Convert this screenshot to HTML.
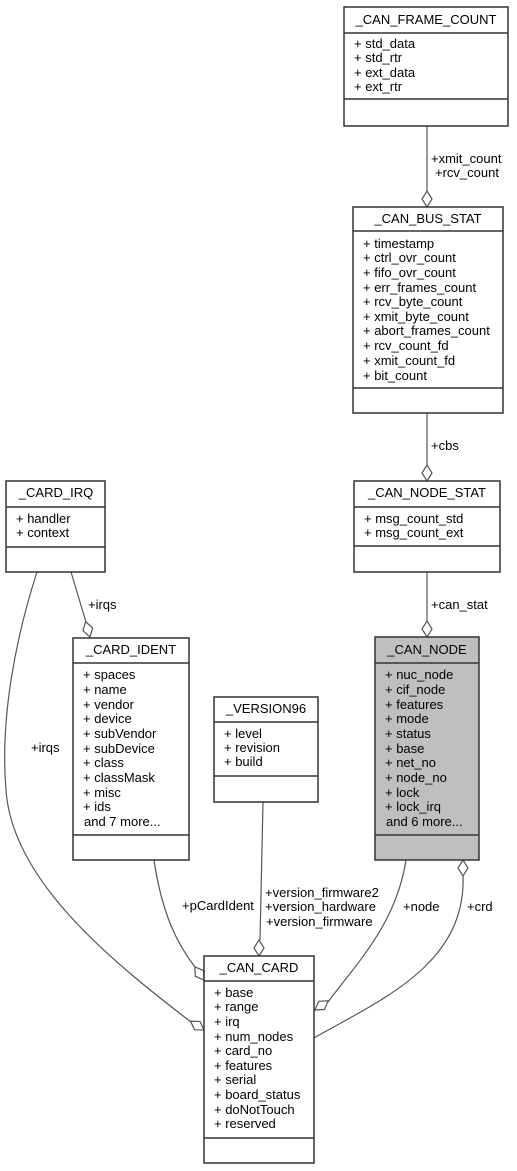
<!DOCTYPE html>
<html><head><meta charset="utf-8"><style>
html,body{margin:0;padding:0;background:#fff}
svg{display:block}
text{font-family:"Liberation Sans",Arial,sans-serif;font-size:13px;fill:#000}
.b{fill:#fff;stroke:#333;stroke-width:1.5}
.g{fill:#bfbfbf;stroke:#333;stroke-width:1.5}
.l{stroke:#333;stroke-width:1.5}
.e{fill:none;stroke:#555;stroke-width:1.2}
.d{fill:#fff;stroke:#555;stroke-width:1.2}
</style></head><body>
<svg width="517" height="1171" viewBox="0 0 517 1171" xmlns="http://www.w3.org/2000/svg">
<!-- edges -->
<path class="e" d="M427,126 L427,191"/>
<g transform="translate(427,207) rotate(90)"><polygon class="d" points="0,0 -8,-5 -16,0 -8,5"/></g>
<text x="431" y="163">+xmit_count</text><text x="435" y="177">+rcv_count</text>

<path class="e" d="M427,413 L427,465"/>
<g transform="translate(427,481) rotate(90)"><polygon class="d" points="0,0 -8,-5 -16,0 -8,5"/></g>
<text x="431" y="450">+cbs</text>

<path class="e" d="M427,572 L427,621"/>
<g transform="translate(427,637) rotate(90)"><polygon class="d" points="0,0 -8,-5 -16,0 -8,5"/></g>
<text x="431" y="609">+can_stat</text>

<path class="e" d="M71,572 L86,622"/>
<g transform="translate(90,637) rotate(74)"><polygon class="d" points="0,0 -8,-5 -16,0 -8,5"/></g>
<text x="88" y="609">+irqs</text>

<path class="e" d="M37,572 C15,640 0,720 6,790 C12,880 110,960 191,1022"/>
<g transform="translate(204,1030) rotate(33)"><polygon class="d" points="0,0 -8,-5 -16,0 -8,5"/></g>
<text x="31" y="752">+irqs</text>

<path class="e" d="M154,860 C162,915 178,945 195,967"/>
<g transform="translate(204,980) rotate(55)"><polygon class="d" points="0,0 -8,-5 -16,0 -8,5"/></g>
<text x="182" y="910">+pCardIdent</text>

<path class="e" d="M263,802 L260,940"/>
<g transform="translate(259,956) rotate(90)"><polygon class="d" points="0,0 -8,-5 -16,0 -8,5"/></g>
<text x="265" y="897">+version_firmware2</text>
<text x="265" y="911">+version_hardware</text>
<text x="266" y="926">+version_firmware</text>

<path class="e" d="M406,860 C396,925 355,965 328,1002"/>
<g transform="translate(315,1010) rotate(145)"><polygon class="d" points="0,0 -8,-5 -16,0 -8,5"/></g>
<text x="403" y="911">+node</text>

<path class="e" d="M463,876 C466,965 380,1000 314,1038"/>
<g transform="translate(463,860) rotate(-90)"><polygon class="d" points="0,0 -8,-5 -16,0 -8,5"/></g>
<text x="467" y="911">+crd</text>

<!-- _CAN_FRAME_COUNT -->
<rect class="b" x="344" y="7" width="164" height="119"/>
<line class="l" x1="344" y1="33" x2="508" y2="33"/><line class="l" x1="344" y1="99" x2="508" y2="99"/>
<text x="426" y="24" text-anchor="middle">_CAN_FRAME_COUNT</text>
<text x="354" y="48">+ std_data</text><text x="354" y="62">+ std_rtr</text><text x="354" y="77">+ ext_data</text><text x="354" y="91">+ ext_rtr</text>

<!-- _CAN_BUS_STAT -->
<rect class="b" x="353" y="207" width="150" height="206"/>
<line class="l" x1="353" y1="231" x2="503" y2="231"/><line class="l" x1="353" y1="388" x2="503" y2="388"/>
<text x="428" y="223" text-anchor="middle">_CAN_BUS_STAT</text>
<text x="363" y="248">+ timestamp</text><text x="363" y="262">+ ctrl_ovr_count</text><text x="363" y="277">+ fifo_ovr_count</text><text x="363" y="292">+ err_frames_count</text><text x="363" y="306">+ rcv_byte_count</text><text x="363" y="321">+ xmit_byte_count</text><text x="363" y="335">+ abort_frames_count</text><text x="363" y="350">+ rcv_count_fd</text><text x="363" y="365">+ xmit_count_fd</text><text x="363" y="380">+ bit_count</text>

<!-- _CAN_NODE_STAT -->
<rect class="b" x="354" y="481" width="146" height="91"/>
<line class="l" x1="354" y1="507" x2="500" y2="507"/><line class="l" x1="354" y1="546" x2="500" y2="546"/>
<text x="427" y="497" text-anchor="middle">_CAN_NODE_STAT</text>
<text x="364" y="523">+ msg_count_std</text><text x="364" y="537">+ msg_count_ext</text>

<!-- _CARD_IRQ -->
<rect class="b" x="6" y="481" width="99" height="91"/>
<line class="l" x1="6" y1="507" x2="105" y2="507"/><line class="l" x1="6" y1="547" x2="105" y2="547"/>
<text x="56" y="497" text-anchor="middle">_CARD_IRQ</text>
<text x="16" y="523">+ handler</text><text x="16" y="537">+ context</text>

<!-- _CAN_NODE -->
<rect class="g" x="375" y="637" width="104" height="223"/>
<line class="l" x1="375" y1="663" x2="479" y2="663"/><line class="l" x1="375" y1="835" x2="479" y2="835"/>
<text x="427" y="654" text-anchor="middle">_CAN_NODE</text>
<text x="385" y="679">+ nuc_node</text><text x="385" y="694">+ cif_node</text><text x="385" y="709">+ features</text><text x="385" y="723">+ mode</text><text x="385" y="738">+ status</text><text x="385" y="753">+ base</text><text x="385" y="767">+ net_no</text><text x="385" y="782">+ node_no</text><text x="385" y="797">+ lock</text><text x="385" y="811">+ lock_irq</text><text x="386" y="826">and 6 more...</text>

<!-- _CARD_IDENT -->
<rect class="b" x="73" y="638" width="116" height="222"/>
<line class="l" x1="73" y1="663" x2="189" y2="663"/><line class="l" x1="73" y1="835" x2="189" y2="835"/>
<text x="131" y="654" text-anchor="middle">_CARD_IDENT</text>
<text x="83" y="679">+ spaces</text><text x="83" y="694">+ name</text><text x="83" y="709">+ vendor</text><text x="83" y="723">+ device</text><text x="83" y="738">+ subVendor</text><text x="83" y="753">+ subDevice</text><text x="83" y="767">+ class</text><text x="83" y="782">+ classMask</text><text x="83" y="797">+ misc</text><text x="83" y="811">+ ids</text><text x="84" y="826">and 7 more...</text>

<!-- _VERSION96 -->
<rect class="b" x="214" y="697" width="104" height="105"/>
<line class="l" x1="214" y1="722" x2="318" y2="722"/><line class="l" x1="214" y1="776" x2="318" y2="776"/>
<text x="266" y="713" text-anchor="middle">_VERSION96</text>
<text x="224" y="738">+ level</text><text x="224" y="752">+ revision</text><text x="224" y="766">+ build</text>

<!-- _CAN_CARD -->
<rect class="b" x="204" y="956" width="110" height="207"/>
<line class="l" x1="204" y1="981" x2="314" y2="981"/><line class="l" x1="204" y1="1138" x2="314" y2="1138"/>
<text x="259" y="972" text-anchor="middle">_CAN_CARD</text>
<text x="214" y="997">+ base</text><text x="214" y="1011">+ range</text><text x="214" y="1026">+ irq</text><text x="214" y="1041">+ num_nodes</text><text x="214" y="1055">+ card_no</text><text x="214" y="1070">+ features</text><text x="214" y="1084">+ serial</text><text x="214" y="1099">+ board_status</text><text x="214" y="1114">+ doNotTouch</text><text x="214" y="1128">+ reserved</text>
</svg>
</body></html>
